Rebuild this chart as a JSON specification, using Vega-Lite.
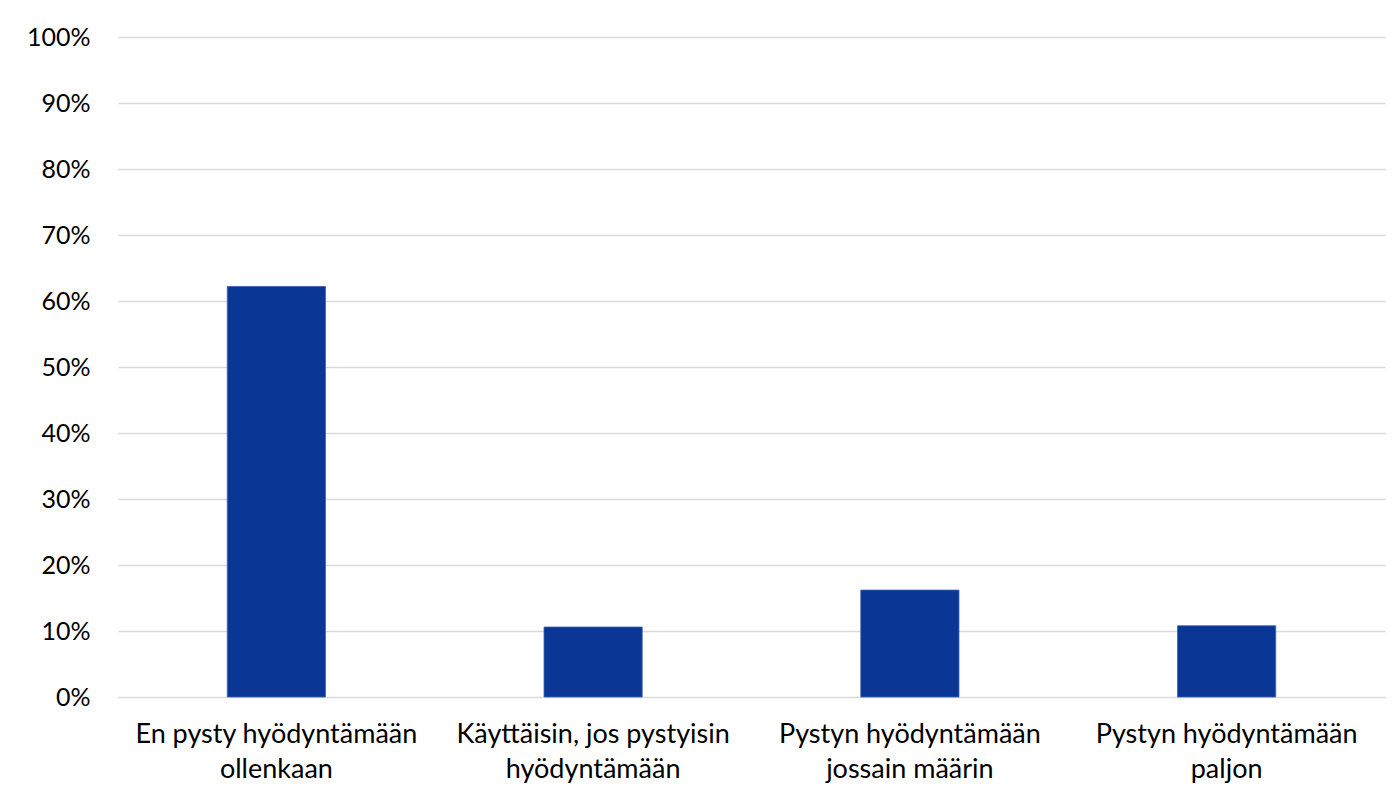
{
  "$schema": "https://vega.github.io/schema/vega-lite/v6.json",
  "autosize": {"type": "none"},
  "padding": {"left": 118, "top": 37, "right": 13, "bottom": 103},
  "width": 1267,
  "height": 660,
  "background": "white",
  "config": {"view": {"stroke": null}, "font": "Lato"},
  "data": {
    "values": [
      {"vastaus": "En pysty hyödyntämään|ollenkaan", "osuus": 0.622},
      {"vastaus": "Käyttäisin, jos pystyisin|hyödyntämään", "osuus": 0.106},
      {"vastaus": "Pystyn hyödyntämään|jossain määrin", "osuus": 0.162},
      {"vastaus": "Pystyn hyödyntämään|paljon", "osuus": 0.108}
    ]
  },
  "mark": {"type": "bar", "color": "#0a3696", "stroke": "#3a62b0", "strokeWidth": 0.8},
  "encoding": {
    "x": {
      "field": "vastaus",
      "type": "nominal",
      "sort": null,
      "scale": {"paddingInner": 0.69, "paddingOuter": 0.345},
      "axis": {
        "title": null,
        "labelAngle": 0,
        "domain": false,
        "ticks": false,
        "labelExpr": "split(datum.label, '|')",
        "labelFontSize": 27,
        "labelLineHeight": 35,
        "labelColor": "#000000",
        "labelPadding": 24,
        "labelLimit": 400
      }
    },
    "y": {
      "field": "osuus",
      "type": "quantitative",
      "scale": {"domain": [0, 1], "nice": false},
      "axis": {
        "title": null,
        "format": ".0%",
        "values": [0, 0.1, 0.2, 0.3, 0.4, 0.5, 0.6, 0.7, 0.8, 0.9, 1],
        "domain": false,
        "ticks": false,
        "grid": true,
        "gridColor": "#d9d9d9",
        "gridWidth": 1.5,
        "labelFontSize": 25,
        "labelColor": "#000000",
        "labelPadding": 28
      }
    }
  }
}
